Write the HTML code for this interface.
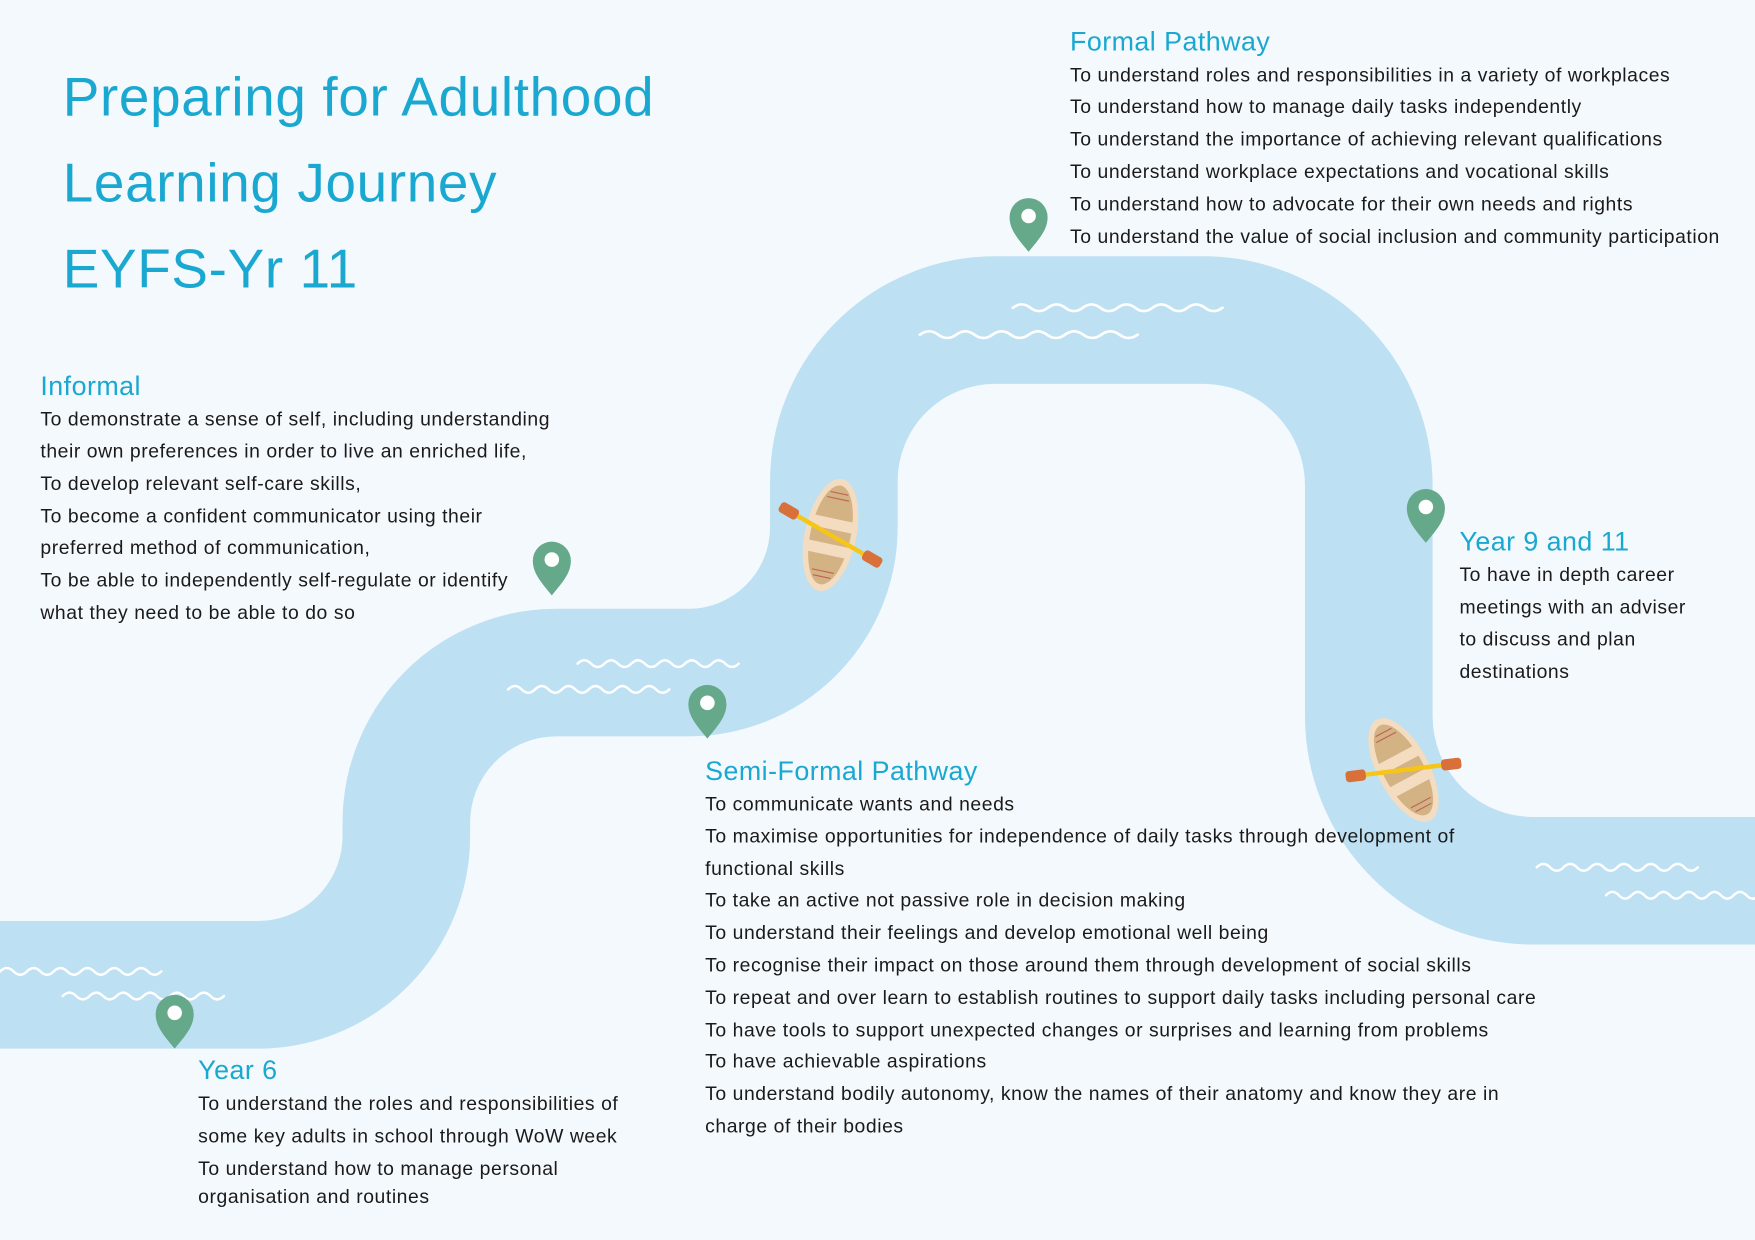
<!DOCTYPE html>
<html><head><meta charset="utf-8"><style>
html,body{margin:0;padding:0;background:#f4f9fd;}
svg{display:block}
text{font-family:"Liberation Sans",sans-serif;}
.t{fill:#1aa8d0;font-size:49px;letter-spacing:0.6px}
.h{fill:#1aa8d0;font-size:24px;letter-spacing:0.4px}
.b{fill:#1a1a1a;font-size:17.3px;letter-spacing:0.5px}
.w{fill:none;stroke:#fff;stroke-width:2.2;stroke-linecap:round}
</style></head><body>
<svg width="1755" height="1240" viewBox="0 0 1568 1108" xmlns="http://www.w3.org/2000/svg">
<defs>
<g id="pin"><path d="M0 24 C-10 12 -17 4 -17 -7 A17 17 0 0 1 17 -7 C17 4 10 12 0 24Z" fill="#65a98a"/><circle cx="0" cy="-8" r="6.5" fill="#fff"/></g>
<g id="hull">
<ellipse cx="0" cy="0" rx="23" ry="51" fill="#f3dcc0"/>
<ellipse cx="0" cy="0" rx="18" ry="45" fill="#d3b284"/>
<rect x="-18" y="-15" width="36" height="10" fill="#f3dcc0"/>
<rect x="-18" y="8" width="36" height="10" fill="#f3dcc0"/>
<path d="M-8 -38 h16 M-10 -33 h20 M-8 38 h16 M-10 33 h20" stroke="#c0605a" stroke-width="1"/>
</g>
<g id="paddle">
<line x1="-40" y1="0" x2="40" y2="0" stroke="#f5c518" stroke-width="4"/>
<rect x="-52" y="-5" width="18" height="10" rx="3" fill="#d9703a"/>
<rect x="34" y="-5" width="18" height="10" rx="3" fill="#d9703a"/>
</g>
<path id="wv" d="M0 0 q6 -6 12 0 t12 0 t12 0 t12 0 t12 0 t12 0 t12 0 t12 0 t12 0 t12 0 t12 0 t12 0" />
</defs>
<rect width="1568" height="1108" fill="#f4f9fd"/>
<path d="M-20 880 L230 880 A133 133 0 0 0 363 747 L363 735 A134 134 0 0 1 497 601 L615 601 A130 130 0 0 0 745 471 L745 430 A144 144 0 0 1 889 286 L1075 286 A148 148 0 0 1 1223 434 L1223 640 A147 147 0 0 0 1370 787 L1590 787" fill="none" stroke="#bde0f3" stroke-width="114"/>
<g class="w">
<use href="#wv" transform="translate(0,868)"/><use href="#wv" transform="translate(56,890)"/>
<use href="#wv" transform="translate(516,593)"/><use href="#wv" transform="translate(454,616)"/>
<use href="#wv" transform="translate(905,275) scale(1.3,1)"/><use href="#wv" transform="translate(822,299) scale(1.35,1)"/>
<use href="#wv" transform="translate(1373,775)"/><use href="#wv" transform="translate(1435,800) scale(0.95,1)"/>
</g>
<use href="#hull" transform="translate(742,478) rotate(12)"/>
<use href="#paddle" transform="translate(742,478) rotate(30)"/>
<use href="#hull" transform="translate(1254,688) rotate(-28)"/>
<use href="#paddle" transform="translate(1254,688) rotate(-7)"/>
<use href="#pin" transform="translate(493,508)"/>
<use href="#pin" transform="translate(632,636)"/>
<use href="#pin" transform="translate(919,201)"/>
<use href="#pin" transform="translate(1274,461)"/>
<use href="#pin" transform="translate(156,913)"/>
<text class="t" x="56" y="103">Preparing for Adulthood</text>
<text class="t" x="56" y="180">Learning Journey</text>
<text class="t" x="56" y="257">EYFS-Yr 11</text>
<text class="h" x="36" y="353">Informal</text>
<g class="b">
<text x="36" y="380">To demonstrate a sense of self, including understanding</text>
<text x="36" y="409">their own preferences in order to live an enriched life,</text>
<text x="36" y="438">To develop relevant self-care skills,</text>
<text x="36" y="467">To become a confident communicator using their</text>
<text x="36" y="495">preferred method of communication,</text>
<text x="36" y="524">To be able to independently self-regulate or identify</text>
<text x="36" y="553">what they need to be able to do so</text>
</g>
<text class="h" x="956" y="45">Formal Pathway</text>
<g class="b">
<text x="956" y="73">To understand roles and responsibilities in a variety of workplaces</text>
<text x="956" y="101">To understand how to manage daily tasks independently</text>
<text x="956" y="130">To understand the importance of achieving relevant qualifications</text>
<text x="956" y="159">To understand workplace expectations and vocational skills</text>
<text x="956" y="188">To understand how to advocate for their own needs and rights</text>
<text x="956" y="217">To understand the value of social inclusion and community participation</text>
</g>
<text class="h" x="1304" y="492">Year 9 and 11</text>
<g class="b">
<text x="1304" y="519">To have in depth career</text>
<text x="1304" y="548">meetings with an adviser</text>
<text x="1304" y="577">to discuss and plan</text>
<text x="1304" y="606">destinations</text>
</g>
<text class="h" x="630" y="697">Semi-Formal Pathway</text>
<g class="b">
<text x="630" y="724">To communicate wants and needs</text>
<text x="630" y="753">To maximise opportunities for independence of daily tasks through development of</text>
<text x="630" y="782">functional skills</text>
<text x="630" y="810">To take an active not passive role in decision making</text>
<text x="630" y="839">To understand their feelings and develop emotional well being</text>
<text x="630" y="868">To recognise their impact on those around them through development of social skills</text>
<text x="630" y="897">To repeat and over learn to establish routines to support daily tasks including personal care</text>
<text x="630" y="926">To have tools to support unexpected changes or surprises and learning from problems</text>
<text x="630" y="954">To have achievable aspirations</text>
<text x="630" y="983">To understand bodily autonomy, know the names of their anatomy and know they are in</text>
<text x="630" y="1012">charge of their bodies</text>
</g>
<text class="h" x="177" y="964">Year 6</text>
<g class="b">
<text x="177" y="992">To understand the roles and responsibilities of</text>
<text x="177" y="1021">some key adults in school through WoW week</text>
<text x="177" y="1050">To understand how to manage personal</text>
<text x="177" y="1075">organisation and routines</text>
</g>
</svg>
</body></html>
